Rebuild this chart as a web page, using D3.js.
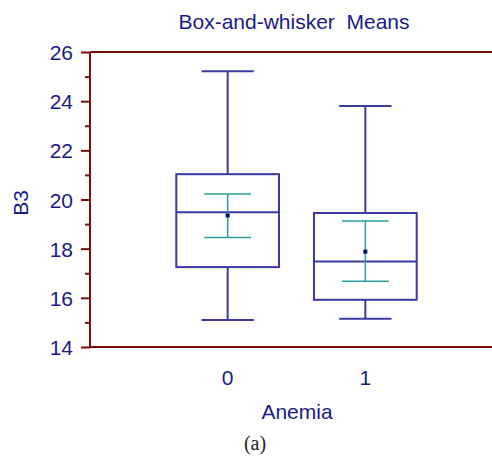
<!DOCTYPE html>
<html><head><meta charset="utf-8">
<script src="https://cdn.jsdelivr.net/npm/d3@7"></script>
<style>body{margin:0;background:#fff}svg{display:block}</style>
</head><body><svg id="c" width="492" height="458"></svg>
<script>
const categories = ["0", "1"];
const whiskerLow = [15.1, 15.15];
const q1 = [17.25, 15.92];
const median = [19.48, 17.48];
const q3 = [21.03, 19.45];
const whiskerHigh = [25.22, 23.8];
const means = [19.35, 17.88];
const ciLow = [18.45, 16.67];
const ciHigh = [20.22, 19.13];
const yTicks = [14, 16, 18, 20, 22, 24, 26];
const yMinorTicks = [15, 17, 19, 21, 23, 25];

const svg = d3.select("#c");
const textCol = "#1a1a8a", axisCol = "#7a0c0c", boxCol = "#3a3aa0", ciCol = "#2a9f9c";
const font = "Liberation Sans, Arial, sans-serif";

const x = d3.scaleLinear().domain([-1, 2]).range([90, 503]);
const y = d3.scaleLinear().domain([14, 26]).range([347, 52]);

// axes lines
svg.append("line").attr("x1", 90).attr("x2", 492).attr("y1", y(26)).attr("y2", y(26)).attr("stroke", axisCol).attr("stroke-width", 2);
svg.append("line").attr("x1", 90).attr("x2", 492).attr("y1", y(14)).attr("y2", y(14)).attr("stroke", axisCol).attr("stroke-width", 2);
svg.append("line").attr("x1", 90).attr("x2", 90).attr("y1", y(26)).attr("y2", y(14)).attr("stroke", axisCol).attr("stroke-width", 2);

const yAxis = svg.append("g").attr("transform", "translate(90,0)")
  .call(d3.axisLeft(y).tickValues(yTicks).tickSize(9).tickPadding(8).tickFormat(d3.format("d")));
yAxis.select(".domain").remove();
yAxis.selectAll(".tick line").attr("stroke", axisCol).attr("stroke-width", 2);
yAxis.selectAll(".tick text").attr("fill", textCol).attr("font-size", 21).attr("font-family", font).attr("dy", "0.36em");
svg.append("g").attr("transform", "translate(90,0)")
  .call(d3.axisLeft(y).tickValues(yMinorTicks).tickSize(5).tickFormat(""))
  .call(g => g.select(".domain").remove())
  .selectAll(".tick line").attr("stroke", axisCol).attr("stroke-width", 2);

// x tick labels
svg.selectAll(".xl").data(categories).enter().append("text")
  .attr("x", (d, i) => x(i)).attr("y", 385).attr("text-anchor", "middle")
  .attr("fill", textCol).attr("font-size", 21).attr("font-family", font).text(d => d);

// titles
svg.append("text").attr("x", 294).attr("y", 29).attr("text-anchor", "middle").attr("fill", textCol)
  .attr("font-size", 21).attr("font-family", font).attr("xml:space", "preserve").style("white-space", "pre").text("Box-and-whisker  Means");
svg.append("text").attr("x", 297).attr("y", 419).attr("text-anchor", "middle").attr("fill", textCol)
  .attr("font-size", 21).attr("font-family", font).text("Anemia");
svg.append("text").attr("transform", "translate(28,203) rotate(-90)").attr("text-anchor", "middle").attr("fill", textCol)
  .attr("font-size", 21).attr("font-family", font).text("B3");
svg.append("text").attr("x", 255).attr("y", 450).attr("text-anchor", "middle").attr("fill", "#222")
  .attr("font-size", 20).attr("font-family", "Liberation Serif, Times New Roman, serif").text("(a)");

const boxHalf = 0.373, capHalf = 0.19, ciHalf = 0.17;
const g = svg.append("g").attr("fill", "none");
categories.forEach((c, i) => {
  const cx = x(i);
  const bw = x(i + boxHalf) - cx, cw = x(i + capHalf) - cx, ciw = x(i + ciHalf) - cx;
  // whiskers
  g.append("line").attr("x1", cx).attr("x2", cx).attr("y1", y(whiskerHigh[i])).attr("y2", y(q3[i])).attr("stroke", boxCol).attr("stroke-width", 2);
  g.append("line").attr("x1", cx).attr("x2", cx).attr("y1", y(q1[i])).attr("y2", y(whiskerLow[i])).attr("stroke", boxCol).attr("stroke-width", 2);
  g.append("line").attr("x1", cx - cw).attr("x2", cx + cw).attr("y1", y(whiskerHigh[i])).attr("y2", y(whiskerHigh[i])).attr("stroke", boxCol).attr("stroke-width", 2);
  g.append("line").attr("x1", cx - cw).attr("x2", cx + cw).attr("y1", y(whiskerLow[i])).attr("y2", y(whiskerLow[i])).attr("stroke", boxCol).attr("stroke-width", 2);
  // box
  g.append("rect").attr("x", cx - bw).attr("width", 2 * bw).attr("y", y(q3[i])).attr("height", y(q1[i]) - y(q3[i]))
    .attr("stroke", boxCol).attr("stroke-width", 2);
  g.append("line").attr("x1", cx - bw).attr("x2", cx + bw).attr("y1", y(median[i])).attr("y2", y(median[i])).attr("stroke", boxCol).attr("stroke-width", 2);
  // mean CI
  g.append("line").attr("x1", cx).attr("x2", cx).attr("y1", y(ciHigh[i])).attr("y2", y(ciLow[i])).attr("stroke", ciCol).attr("stroke-width", 1.5);
  g.append("line").attr("x1", cx - ciw).attr("x2", cx + ciw).attr("y1", y(ciHigh[i])).attr("y2", y(ciHigh[i])).attr("stroke", ciCol).attr("stroke-width", 1.5);
  g.append("line").attr("x1", cx - ciw).attr("x2", cx + ciw).attr("y1", y(ciLow[i])).attr("y2", y(ciLow[i])).attr("stroke", ciCol).attr("stroke-width", 1.5);
  svg.append("rect").attr("x", cx - 2).attr("y", y(means[i]) - 2).attr("width", 4).attr("height", 4).attr("fill", "#0a0a80");
});
</script></body></html>
